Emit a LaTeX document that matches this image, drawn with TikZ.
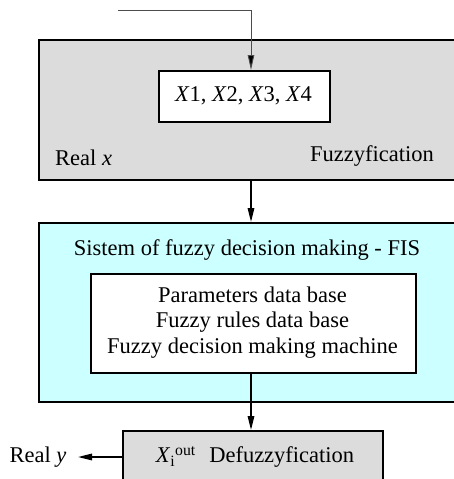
\documentclass[tikz,border=0pt]{standalone}
\usepackage{fontspec}
\setmainfont{Liberation Serif}
\usetikzlibrary{arrows.meta}
\definecolor{boxgray}{HTML}{DCDCDC}
\definecolor{boxcyan}{HTML}{CCFFFF}
\begin{document}
\begin{tikzpicture}[x=1pt,y=-1pt,
  every node/.style={font=\fontsize{22.5}{27}\selectfont},
  outerbox/.style={draw=black, line width=1.6pt, inner sep=0pt, anchor=north west},
  innerbox/.style={draw=black, line width=1.6pt, fill=white, inner sep=0pt, anchor=north west},
  conn/.style={line width=1.6pt, -{Triangle[length=14pt,width=6.5pt]}},
  thinconn/.style={draw=black!70, line width=0.9pt, -{Triangle[length=15pt,width=6.5pt,fill=black]}},
  lbl/.style={inner sep=0pt}]
\useasboundingbox (0,0) rectangle (454,479);
\clip (0,0) rectangle (454,479);
% fuzzyfication block
\node[outerbox, fill=boxgray, minimum width=432pt, minimum height=140pt] (fuzz) at (38,39) {};
\node[innerbox, minimum width=171pt, minimum height=51pt] (xs) at (158,70) {};
\node[lbl] (xstext) at (243.5,95.5) {\textit{X}1, \textit{X}2, \textit{X}3, \textit{X}4};
\node[lbl, anchor=west] (realx) at (55,158) {Real \textit{x}};
\node[lbl] (fuzzlbl) at (372,156) {Fuzzyfication};
% FIS block
\node[outerbox, fill=boxcyan, minimum width=432pt, minimum height=179pt] (fis) at (38,222) {};
\node[lbl] (fistitle) at (247,250) {Sistem of fuzzy decision making - FIS};
\node[innerbox, minimum width=325pt, minimum height=99pt] (db) at (90,273) {};
\node[lbl] (l1) at (252.5,295) {Parameters data base};
\node[lbl] (l2) at (252.5,322) {Fuzzy rules data base};
\node[lbl] (l3) at (252.5,348) {Fuzzy decision making machine};
% defuzzyfication block
\node[outerbox, fill=boxgray, minimum width=260pt, minimum height=70pt] (defuzz) at (122,430) {};
\node[lbl] (deftext) at (255,457) {\textit{X}\textsubscript{i}\textsuperscript{out}\hspace{0.6em}Defuzzyfication};
\node[lbl] (realy) at (38,457) {Real \textit{y}};
% connectors
\coordinate (in0) at (118,10);
\coordinate (in1) at (251,10);
\draw[thinconn] (in0) -- (in1) -- (xs.north -| in1);
\draw[conn] (fuzz.south -| in1) -- (fis.north -| in1);
\draw[conn] (db.south -| in1) -- (defuzz.north -| in1);
\draw[conn] (defuzz.west |- deftext) -- (78,457) coordinate (yend);
\end{tikzpicture}
\end{document}
